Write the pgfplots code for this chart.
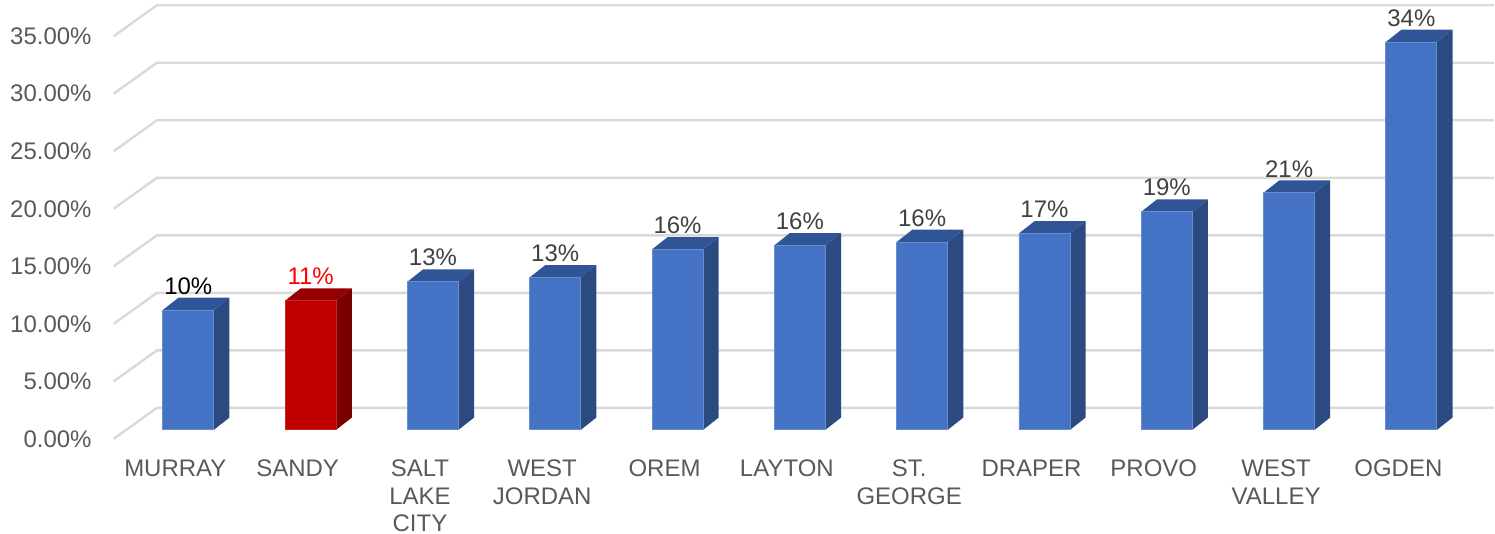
\documentclass[border=0pt]{standalone}
\usepackage{fontspec}
\setmainfont{Liberation Sans}
\usepackage{pgfplots}
\usepackage{pgfplotstable}
\pgfplotsset{compat=1.18}
\definecolor{barblue}{HTML}{4472C4}
\definecolor{bluetop}{HTML}{2F5597}
\definecolor{blueside}{HTML}{2A4A80}
\definecolor{barred}{HTML}{C00000}
\definecolor{redtop}{HTML}{960000}
\definecolor{redside}{HTML}{7A0000}
\definecolor{gridgray}{HTML}{D9D9D9}
\definecolor{labgray}{HTML}{595959}
\definecolor{valgray}{HTML}{404040}

\pgfplotstableread{
x v
0 10.42
1 11.23
2 12.88
3 13.26
4 15.69
5 16.04
6 16.33
7 17.08
8 18.96
9 20.61
10 33.72
}\citydata

\begin{document}
\begin{tikzpicture}
\begin{axis}[
  scale only axis, width=690.6pt, height=219.5pt,
  xmin=-0.61, xmax=10.674, ymin=-0.78, ymax=37.35,
  clip=false,
  axis line style={draw=none},
  major tick length=0pt,
  xtick={0,...,10},
  xticklabels={MURRAY,SANDY,{SALT\\LAKE\\CITY},{WEST\\JORDAN},OREM,LAYTON,{ST.\\GEORGE},DRAPER,PROVO,{WEST\\VALLEY},OGDEN},
  ytick={-0.78,4.22,9.22,14.22,19.22,24.22,29.22,34.22},
  yticklabels={0.00\%,5.00\%,10.00\%,15.00\%,20.00\%,25.00\%,30.00\%,35.00\%},
  tick label style={font=\fontsize{12}{13.75}\selectfont, text=labgray},
  yticklabel style={inner sep=0pt, xshift=-10.9pt},
  xticklabel style={inner sep=0pt, align=center, xshift=-6.5pt, yshift=-10.3pt},
]
% invisible bounding box
\path (rel axis cs:0,0) ++(-56.9pt,-47.5pt) rectangle (rel axis cs:1,1);

% 3D grid: diagonal floor lines and back wall lines
\addplot[gridgray, line width=1.2pt] coordinates {(-0.61,-0.78) (-0.257,1.91) (10.674,1.91)};
\addplot[gridgray, line width=1.2pt] coordinates {(-0.61,4.22) (-0.257,6.91) (10.674,6.91)};
\addplot[gridgray, line width=1.2pt] coordinates {(-0.61,9.22) (-0.257,11.91) (10.674,11.91)};
\addplot[gridgray, line width=1.2pt] coordinates {(-0.61,14.22) (-0.257,16.91) (10.674,16.91)};
\addplot[gridgray, line width=1.2pt] coordinates {(-0.61,19.22) (-0.257,21.91) (10.674,21.91)};
\addplot[gridgray, line width=1.2pt] coordinates {(-0.61,24.22) (-0.257,26.91) (10.674,26.91)};
\addplot[gridgray, line width=1.2pt] coordinates {(-0.61,29.22) (-0.257,31.91) (10.674,31.91)};
\addplot[gridgray, line width=1.2pt] coordinates {(-0.61,34.22) (-0.257,36.91) (10.674,36.91)};

% side and top faces of the bars
\pgfplotsinvokeforeach{0,...,10}{%
  \pgfplotstablegetelem{#1}{v}\of\citydata
  \pgfmathsetmacro\vv{\pgfplotsretval}%
  \pgfmathsetmacro\vt{\pgfplotsretval+1.07}%
  \pgfmathsetmacro\xl{#1-0.2085}%
  \pgfmathsetmacro\xr{#1+0.2085}%
  \pgfmathsetmacro\xrb{#1+0.3365}%
  \pgfmathsetmacro\xlb{#1-0.0805}%
  \ifnum#1=1 \def\topc{redtop}\def\sidec{redside}\else\def\topc{bluetop}\def\sidec{blueside}\fi
  \edef\doplots{%
    \noexpand\addplot[fill=\sidec, draw=none, forget plot] coordinates {(\xr,0) (\xrb,1.07) (\xrb,\vt) (\xr,\vv)};
    \noexpand\addplot[fill=\topc, draw=none, forget plot] coordinates {(\xl,\vv) (\xr,\vv) (\xrb,\vt) (\xlb,\vt)};
  }%
  \doplots
}

% front faces
\addplot[ybar, bar width=0.417, fill=barblue, draw=barblue!80!white, line width=0.4pt,
  skip coords between index={1}{2}] table[x=x,y=v]{\citydata};
\addplot[ybar, bar width=0.417, fill=barred, draw=barred!85!white, line width=0.4pt,
  restrict x to domain=0.9:1.1] table[x=x,y=v]{\citydata};

% value labels
\pgfplotsset{vlab/.style={draw=none, mark=none, point meta=explicit,
  nodes near coords={\pgfmathprintnumber[fixed,precision=0,assume math mode=true]{\pgfplotspointmeta}\%},
  every node near coord/.append style={anchor=base, inner sep=0pt,
    font=\fontsize{12}{13.75}\selectfont}}}
\addplot[vlab, every node near coord/.append style={text=valgray},
  skip coords between index={0}{2}] table[x=x, y expr=\thisrow{v}+1.37, meta=v]{\citydata};
\addplot[vlab, every node near coord/.append style={text=black},
  restrict x to domain=-0.1:0.1] table[x=x, y expr=\thisrow{v}+1.37, meta=v]{\citydata};
\addplot[vlab, every node near coord/.append style={text=red},
  restrict x to domain=0.9:1.1] table[x=x, y expr=\thisrow{v}+1.37, meta=v]{\citydata};
\end{axis}
\end{tikzpicture}
\end{document}
